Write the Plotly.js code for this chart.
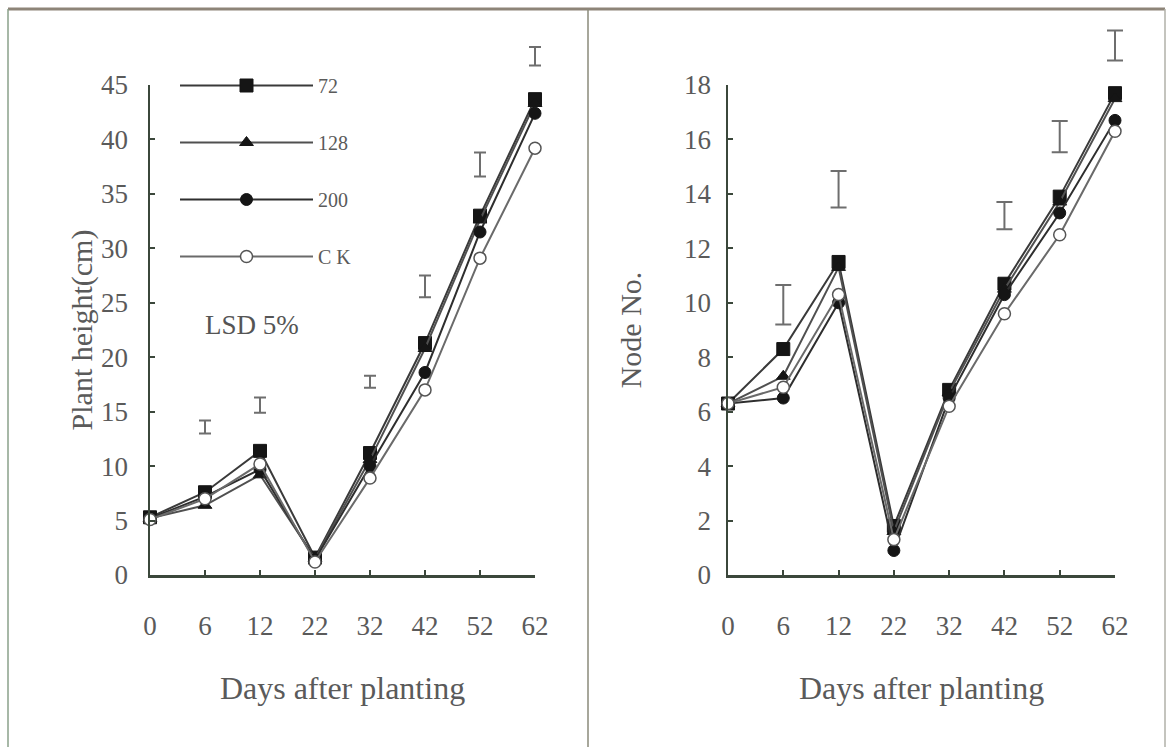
<!DOCTYPE html>
<html><head><meta charset="utf-8">
<script src="https://cdn.plot.ly/plotly-3.0.1.min.js"></script>
<style>html,body{margin:0;padding:0;background:#fff}#chart{width:1168px;height:747px}</style>
</head><body><div id="chart"></div>
<script>
// ---- data ----
const days = ['0', '6', '12', '22', '32', '42', '52', '62'];
const seriesNames = ['72', '128', '200', 'C K'];

// Plant height (cm)
const height72  = [5.3, 7.6, 11.4, 1.6, 11.2, 21.3, 33.0, 43.7];
const height128 = [5.2, 6.4, 9.2, 1.5, 10.6, 20.8, 32.6, 43.3];
const height200 = [5.2, 7.2, 9.7, 1.4, 10.0, 18.6, 31.5, 42.4];
const heightCK  = [5.1, 7.0, 10.2, 1.2, 8.9, 17.0, 29.1, 39.2];

// Node number
const node72  = [6.3, 8.3, 11.5, 1.8, 6.8, 10.7, 13.9, 17.7];
const node128 = [6.3, 7.3, 11.3, 1.6, 6.7, 10.5, 13.7, 17.5];
const node200 = [6.3, 6.5, 10.0, 0.9, 6.5, 10.3, 13.3, 16.7];
const nodeCK  = [6.3, 6.9, 10.3, 1.3, 6.2, 9.6, 12.5, 16.3];

// LSD 5% bars (centre position and full LSD length)
const lsdHeightDays   = ['6', '12', '32', '42', '52', '62'];
const lsdHeightCenter = [13.6, 15.6, 17.75, 26.5, 37.7, 47.65];
const lsdHeightValue  = [1.2, 1.4, 1.1, 2.0, 2.2, 1.7];

const lsdNodeDays   = ['6', '12', '42', '52', '62'];
const lsdNodeCenter = [9.93, 14.17, 13.2, 16.1, 19.45];
const lsdNodeValue  = [1.45, 1.34, 1.0, 1.15, 1.1];

const heightTicks = [0, 5, 10, 15, 20, 25, 30, 35, 40, 45];
const nodeTicks = [0, 2, 4, 6, 8, 10, 12, 14, 16, 18];
const heightMax = 45, nodeMax = 18;

// ---- styles ----
const serif = 'Liberation Serif';
const axisCol = '#3b473b';
const textCol = '#5a5a5a';
const styles = [
  {line: '#3a3a3a', marker: {symbol: 'square', size: 13, color: '#151515', line: {color: '#151515', width: 1}}},
  {line: '#505050', marker: {symbol: 'triangle-up', size: 12, color: '#151515', line: {color: '#151515', width: 1}}},
  {line: '#2e2e2e', marker: {symbol: 'circle', size: 12, color: '#151515', line: {color: '#151515', width: 1}}},
  {line: '#6a6a6a', marker: {symbol: 'circle', size: 12, color: '#ffffff', line: {color: '#555555', width: 1.5}}}
];

const heightSeries = [height72, height128, height200, heightCK];
const nodeSeries = [node72, node128, node200, nodeCK];

const traces = [];
heightSeries.forEach((ys, i) => {
  traces.push({
    x: days, y: ys, name: seriesNames[i], type: 'scatter', mode: 'lines+markers',
    xaxis: 'x', yaxis: 'y', cliponaxis: false,
    line: {color: styles[i].line, width: 2}, marker: styles[i].marker,
    legendgroup: 'g' + i, showlegend: true
  });
});
nodeSeries.forEach((ys, i) => {
  traces.push({
    x: days, y: ys, name: seriesNames[i], type: 'scatter', mode: 'lines+markers',
    xaxis: 'x2', yaxis: 'y2', cliponaxis: false,
    line: {color: styles[i].line, width: 2}, marker: styles[i].marker,
    legendgroup: 'g' + i, showlegend: false
  });
});
// LSD bars live on invisible axes with the same scale but a larger domain,
// so the bars above the top tick are not clipped.
traces.push({
  x: lsdHeightDays, y: lsdHeightCenter, type: 'scatter', mode: 'markers',
  xaxis: 'x3', yaxis: 'y3', cliponaxis: false, showlegend: false, name: 'LSD 5%',
  marker: {size: 1, color: 'rgba(0,0,0,0)'},
  error_y: {type: 'data', array: lsdHeightValue.map(v => v / 2), symmetric: true, color: '#6e6e6e', thickness: 2, width: 6}
});
traces.push({
  x: lsdNodeDays, y: lsdNodeCenter, type: 'scatter', mode: 'markers',
  xaxis: 'x4', yaxis: 'y4', cliponaxis: false, showlegend: false, name: 'LSD 5%',
  marker: {size: 1, color: 'rgba(0,0,0,0)'},
  error_y: {type: 'data', array: lsdNodeValue.map(v => v / 2), symmetric: true, color: '#6e6e6e', thickness: 2, width: 8}
});

const xBase = {
  type: 'category', categoryorder: 'array', categoryarray: days, range: [0, 7],
  showgrid: false, zeroline: false,
  showline: true, linecolor: axisCol, linewidth: 2.5,
  ticks: 'inside', ticklen: 5, tickwidth: 2, tickcolor: axisCol,
  tickfont: {family: serif, size: 27, color: textCol}, ticklabelstandoff: 25,
  title: {text: 'Days after planting', font: {family: serif, size: 32, color: textCol}, standoff: 37}
};
const yBase = {
  showgrid: false, zeroline: false, showline: true, linecolor: axisCol, linewidth: 2.5,
  ticks: 'inside', ticklen: 5, tickwidth: 2, tickcolor: axisCol,
  tickfont: {family: serif, size: 27, color: textCol}
};

// plot area in pixels
const L = 60, R = 1160, TOP = 20, AXT = 85, BOT = 575;
const W = R - L, H = BOT - TOP;
const px = v => (v - L) / W;
const py = v => (BOT - v) / H;
const mainTop = py(AXT);
const leftX = [150, 535], rightX = [728, 1115];
const halfStepL = (leftX[1] - leftX[0]) / 14, halfStepR = (rightX[1] - rightX[0]) / 14;

const frame = [
  {x0: px(8), x1: px(1165), y0: py(9), y1: py(9), w: 3, c: '#8d8478'},
  {x0: px(8), x1: px(8), y0: py(9), y1: py(747), w: 1.5, c: '#8aa08a'},
  {x0: px(588), x1: px(588), y0: py(9), y1: py(747), w: 1.5, c: '#8a8a7a'},
  {x0: px(1165), x1: px(1165), y0: py(9), y1: py(747), w: 1.5, c: '#b0b0a8'}
].map(s => ({type: 'line', xref: 'paper', yref: 'paper', x0: s.x0, x1: s.x1, y0: s.y0, y1: s.y1, line: {color: s.c, width: s.w}}));

const hiddenX = {visible: false, type: 'category', categoryorder: 'array', categoryarray: days, range: [-0.5, 7.5], fixedrange: true};

const layout = {
  width: 1168, height: 747,
  margin: {l: L, r: 1168 - R, t: TOP, b: 747 - BOT},
  paper_bgcolor: '#ffffff', plot_bgcolor: 'rgba(0,0,0,0)',
  showlegend: true,
  xaxis: Object.assign({}, xBase, {domain: [px(leftX[0]), px(leftX[1])], anchor: 'y'}),
  xaxis2: Object.assign({}, xBase, {domain: [px(rightX[0]), px(rightX[1])], anchor: 'y2'}),
  yaxis: Object.assign({}, yBase, {range: [0, heightMax], tickvals: heightTicks, anchor: 'x', domain: [0, mainTop],
    ticklabelstandoff: 14,
    title: {text: 'Plant height(cm)', font: {family: serif, size: 30, color: textCol}, standoff: 0}}),
  yaxis2: Object.assign({}, yBase, {range: [0, nodeMax], tickvals: nodeTicks, anchor: 'x2', domain: [0, mainTop],
    ticklabelstandoff: 9,
    title: {text: 'Node No.', font: {family: serif, size: 30, color: textCol}, standoff: 34}}),
  xaxis3: Object.assign({}, hiddenX, {domain: [px(leftX[0] - halfStepL), px(leftX[1] + halfStepL)], anchor: 'y3'}),
  xaxis4: Object.assign({}, hiddenX, {domain: [px(rightX[0] - halfStepR), px(rightX[1] + halfStepR)], anchor: 'y4'}),
  yaxis3: {visible: false, anchor: 'x3', domain: [0, 1], range: [0, heightMax / mainTop], fixedrange: true},
  yaxis4: {visible: false, anchor: 'x4', domain: [0, 1], range: [0, nodeMax / mainTop], fixedrange: true},
  legend: {
    x: px(175), y: py(66), xanchor: 'left', yanchor: 'top',
    bgcolor: 'rgba(0,0,0,0)', borderwidth: 0,
    font: {family: serif, size: 20, color: textCol},
    traceorder: 'grouped', tracegroupgap: 28, itemwidth: 133
  },
  annotations: [{
    xref: 'paper', yref: 'paper', x: px(252), y: py(325), xanchor: 'center', yanchor: 'middle',
    text: 'LSD 5%', showarrow: false,
    font: {family: serif, size: 27, color: '#555555'}
  }],
  shapes: frame
};

Plotly.newPlot('chart', traces, layout, {displayModeBar: false, staticPlot: true});
</script></body></html>
